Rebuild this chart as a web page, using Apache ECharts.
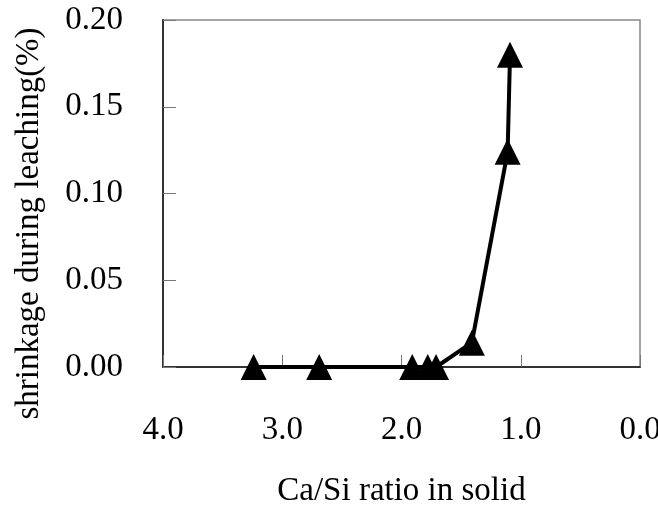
<!DOCTYPE html>
<html>
<head>
<meta charset="utf-8">
<script src="https://cdn.jsdelivr.net/npm/echarts@6/dist/echarts.min.js"></script>
<style>
  html, body { margin: 0; padding: 0; background: #fff; }
  #chart { width: 658px; height: 512px; }
</style>
</head>
<body>
<div id="chart"></div>
<script>
// Ca/Si ratio in solid vs shrinkage during leaching
var caSiRatio = [3.24, 2.69, 1.91, 1.78, 1.71, 1.41, 1.11, 1.09];
var shrinkage = [0, 0, 0, 0, 0, 0.014, 0.124, 0.180];
var xName = 'Ca/Si ratio in solid';
var yName = 'shrinkage during leaching(%)';

var font = 'Liberation Serif';

var points = caSiRatio.map(function (x, i) { return [x, shrinkage[i]]; });

var chart = echarts.init(document.getElementById('chart'));
chart.setOption({
    animation: false,
    backgroundColor: '#fff',
    grid: {
        left: 163, right: 18, top: 20, bottom: 145,
        outerBoundsMode: 'none',
        containLabel: false,
        show: true,
        borderColor: '#888',
        borderWidth: 1.5
    },
    xAxis: {
        type: 'value',
        min: 0, max: 4, interval: 1,
        inverse: true,
        name: xName,
        nameLocation: 'middle',
        nameGap: 108,
        nameTextStyle: { fontFamily: font, fontSize: 33, color: '#000' },
        axisLine: { onZero: false, lineStyle: { color: '#333', width: 2 } },
        axisTick: { inside: true, length: 12, lineStyle: { color: '#777', width: 1 } },
        axisLabel: {
            margin: 47, fontFamily: font, fontSize: 33, color: '#000',
            formatter: function (v) { return v.toFixed(1); }
        },
        splitLine: { show: false }
    },
    yAxis: {
        type: 'value',
        position: 'left',
        min: 0, max: 0.2, interval: 0.05,
        name: yName,
        nameLocation: 'middle',
        nameGap: 117,
        nameRotate: 90,
        nameTextStyle: { fontFamily: font, fontSize: 33, color: '#000', padding: [0, 60, 0, 0] },
        axisLine: { onZero: false, lineStyle: { color: '#333', width: 2 } },
        axisTick: { inside: true, length: 13, lineStyle: { color: '#777', width: 1 } },
        axisLabel: {
            margin: 40, fontFamily: font, fontSize: 33, color: '#000',
            padding: [10, 0, 0, 0],
            formatter: function (v) { return v.toFixed(2); }
        },
        splitLine: { show: false }
    },
    series: [{
        type: 'line',
        data: points,
        symbol: 'triangle',
        symbolSize: [26, 26],
        showAllSymbol: true,
        lineStyle: { color: '#000', width: 4 },
        itemStyle: { color: '#000' }
    }]
});
</script>
</body>
</html>
